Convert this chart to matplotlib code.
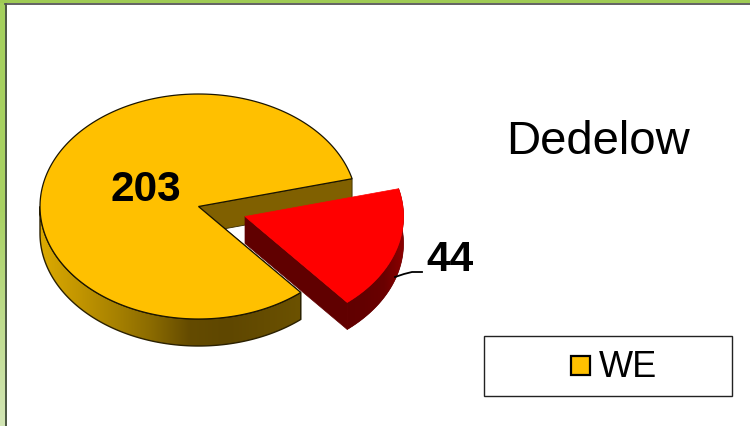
import matplotlib
matplotlib.use("Agg")
import matplotlib.pyplot as plt
import numpy as np
from matplotlib.colors import LinearSegmentedColormap
from matplotlib.patches import Polygon, Rectangle

categories = ["WE", "other"]
values = [203, 44]
title = "Dedelow"

# layout in pixels, the pie is drawn by hand because it is a tilted 3d one
W, H = 750, 426
cx, cy = 198.5, 206.5
rx, ry = 158.5, 112.5
depth = 27
explode = (46.5, 10)
gap_end = 14.3  # degrees, upper edge of the pulled out slice


def pt(angle, r=1.0, ox=0, oy=0):
    a = np.radians(angle)
    return np.c_[cx + ox + rx * r * np.cos(a), cy + oy - ry * r * np.sin(a)]


def arc(a0, a1, ox=0, oy=0):
    return pt(np.linspace(a0, a1, 200), 1.0, ox, oy)


def gradient(ax, poly, colors, x0, x1, y0, y1, zorder):
    cmap = LinearSegmentedColormap.from_list("rim", colors)
    im = ax.imshow(np.linspace(0, 1, 256)[None, :], cmap=cmap, extent=(x0, x1, y1, y0),
                   aspect="auto", zorder=zorder, interpolation="bilinear")
    im.set_clip_path(poly)


def rim(a0, a1, ox=0, oy=0):
    top = arc(a0, a1, ox, oy)
    return np.vstack([top, top[::-1] + [0, depth]])


def face(a, ox=0, oy=0):
    c = np.array([[cx + ox, cy + oy]])
    e = pt(np.array([a]), 1.0, ox, oy)
    return np.vstack([c, e, e + [0, depth], c + [0, depth]])


fig = plt.figure(figsize=(W / 100, H / 100), dpi=100)
ax = fig.add_axes([0, 0, 1, 1])
ax.set_xlim(0, W)
ax.set_ylim(H, 0)
ax.axis("off")

# frame
cmap = LinearSegmentedColormap.from_list("frame", ["#a4d05c", "#a9d263", "#d3e6b5"])
ax.imshow(np.linspace(0, 1, 256)[:, None], cmap=cmap, extent=(0, 5, H, 0), aspect="auto", zorder=1)
ax.add_patch(Rectangle((0, 0), W, 3, fc="#9fcb55", ec="none", zorder=2))
ax.plot([5.5, 5.5], [3.5, H], color="#3c4a30", lw=1.3, zorder=3)
ax.plot([5, W], [3.5, 3.5], color="#555555", lw=1.3, zorder=3)

frac = values[1] / sum(values) * 360
a_top = gap_end
a_bot = gap_end - frac

# yellow part
ax.add_patch(Polygon(face(a_top), fc="#806000", ec="#3a2c00", lw=0.6, zorder=4))
ax.add_patch(Polygon(face(a_bot), fc="#604800", ec="#3a2c00", lw=0.6, zorder=4))
outline = rim(180, 360 + a_bot)
p = Polygon(outline, fc="none", ec="#2a2000", lw=1.0, zorder=6)
ax.add_patch(p)
p2 = Polygon(outline, fc="none", ec="none", transform=ax.transData)
ax.add_patch(p2)
gradient(ax, p2, ["#dcaa00", "#c39600", "#a88200", "#8a6a00", "#644b00", "#5f4700", "#654c00", "#6c5200"],
         cx - rx, cx + rx - 55, cy, cy + ry + depth, 5)
top = np.vstack([[[cx, cy]], arc(a_top, 360 + a_bot)])
ax.add_patch(Polygon(top, fc="#ffc000", ec="#1a1400", lw=0.9, zorder=7))

# red slice
ox, oy = explode
ax.add_patch(Polygon(face(a_bot, ox, oy), fc="#600000", ec="#600000", lw=0.5, zorder=8))
ax.add_patch(Polygon(rim(a_bot, a_top, ox, oy), fc="#660000", ec="#660000", lw=0.5, zorder=8))
p3 = Polygon(rim(a_bot, a_top, ox, oy), fc="none", ec="none")
ax.add_patch(p3)
gradient(ax, p3, ["#600000", "#640000", "#6a0000", "#8c0000"], cx + ox + 100, cx + ox + rx, cy, cy + ry + depth, 9)
slice_top = np.vstack([[[cx + ox, cy + oy]], arc(a_bot, a_top, ox, oy)])
ax.add_patch(Polygon(slice_top, fc="#ff0000", ec="#ff0000", lw=0.5, zorder=10))

# data labels
bold = dict(family="Liberation Sans", weight="bold", color="black", fontsize=30.5, zorder=12)
ax.text(145.5, 190, str(values[0]), ha="center", va="center", **bold)
ax.text(450, 260, str(values[1]), ha="center", va="center", **bold)
ax.plot([395, 404, 412, 422], [277, 274, 272, 272], color="black", lw=1.3, zorder=11)

ax.text(598, 142, title, ha="center", va="center", family="Liberation Sans", fontsize=34, zorder=12)

# legend
ax.add_patch(Rectangle((484, 335.5), 247.5, 60, fc="white", ec="#222222", lw=1, zorder=11))
ax.add_patch(Rectangle((570.5, 356), 19, 19, fc="#ffc000", ec="black", lw=1.6, zorder=12))
ax.text(599, 367.5, categories[0], ha="left", va="center", family="Liberation Sans", fontsize=26, zorder=12)

fig.savefig("out.png", dpi=100)
